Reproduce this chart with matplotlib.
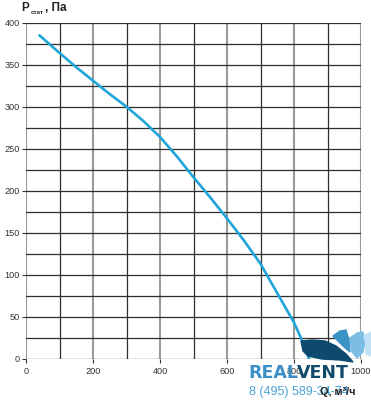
import matplotlib
matplotlib.use("Agg")
import matplotlib.pyplot as plt
from matplotlib.patches import Polygon

# data
flow = [40, 100, 150, 200, 250, 300, 350, 400, 450, 500, 550, 600, 650, 700, 750, 800, 825, 845]
pressure = [385, 364, 347, 331, 315, 300, 283, 264, 241, 216, 192, 167, 141, 113, 78, 43, 21, 0]
x_ticks = [0, 200, 400, 600, 800, 1000]
y_ticks = [0, 50, 100, 150, 200, 250, 300, 350, 400]

W, H = 371, 400
fig = plt.figure(figsize=(W / 100, H / 100), dpi=100)
plt.rcParams['font.family'] = ['Liberation Sans', 'DejaVu Sans']

ax = fig.add_axes([26 / W, 1 - 358.7 / H, (361 - 26) / W, (358.7 - 22.7) / H])
ax.set_xlim(0, 1000)
ax.set_ylim(0, 400)

# grid
for xv in range(0, 1001, 100):
    if xv % 200 == 0:
        ax.axvline(xv, color='#9a9a9a', lw=1.5, zorder=1)
    else:
        ax.axvline(xv, color='#2e2e2e', lw=0.9, zorder=1)
for yv in range(0, 401, 25):
    ax.axhline(yv, color='#2e2e2e', lw=0.9, zorder=1)

for s in ax.spines.values():
    s.set_visible(False)

ax.plot(flow, pressure, color='#1fa5d9', lw=1.9, zorder=3, solid_capstyle='round',
        solid_joinstyle='round')

ax.set_xticks(x_ticks)
ax.set_yticks(y_ticks)
ax.tick_params(axis='both', labelsize=6.6, colors='#333333', length=3, width=0.8, pad=1.5)
ax.tick_params(axis='x', pad=3)

# title
fig.text(21.5 / W, 1 - 11 / H, 'P', fontsize=8.5, fontweight='bold', color='#222222', va='baseline')
fig.text(30.5 / W, 1 - 14.5 / H, 'стат', fontsize=4.5, fontweight='bold', color='#222222', va='baseline')
fig.text(45 / W, 1 - 11 / H, ', Па', fontsize=8.5, fontweight='bold', color='#222222', va='baseline')


def px(points):
    return [(x / W, 1 - y / H) for x, y in points]


# watermark logo
swoosh = Polygon(px([(301, 341), (312, 340), (325, 341), (336, 346), (346, 354), (353, 362),
                     (340, 360), (322, 359), (308, 356), (303, 351)]),
                 closed=True, transform=fig.transFigure, color='#0e4a6e', zorder=5)
wing0 = Polygon(px([(333, 336), (340, 331), (346, 330), (349, 340), (350, 352), (343, 346)]),
                closed=True, transform=fig.transFigure, color='#3c93c6', zorder=5)
wing1 = Polygon(px([(350, 338), (357, 333), (363, 332), (365, 342), (363, 352), (357, 358), (352, 352)]),
                closed=True, transform=fig.transFigure, color='#7cbde6', zorder=5)
wing2 = Polygon(px([(364, 336), (371, 332), (371, 356), (366, 354), (366, 344)]),
                closed=True, transform=fig.transFigure, color='#bfe0f5', zorder=5)
for p in (swoosh, wing0, wing1, wing2):
    fig.add_artist(p)

fig.text(248 / W, 1 - 377.5 / H, 'REAL', fontsize=12.5, fontweight='bold', color='#3b8fc6',
         family='DejaVu Sans', va='baseline', zorder=6)
fig.text(297 / W, 1 - 377.5 / H, 'VENT', fontsize=12.5, fontweight='bold', color='#124a6b',
         family='DejaVu Sans', va='baseline', zorder=6)
fig.text(249 / W, 1 - 395 / H, '8 (495) 589-34-74', fontsize=9, color='#4aa3d8',
         va='baseline', zorder=6)
fig.text(320 / W, 1 - 395 / H, 'Q, м³/ч', fontsize=7.8, fontweight='bold', color='#222222',
         va='baseline', zorder=7)

fig.savefig('out.png', dpi=100)
